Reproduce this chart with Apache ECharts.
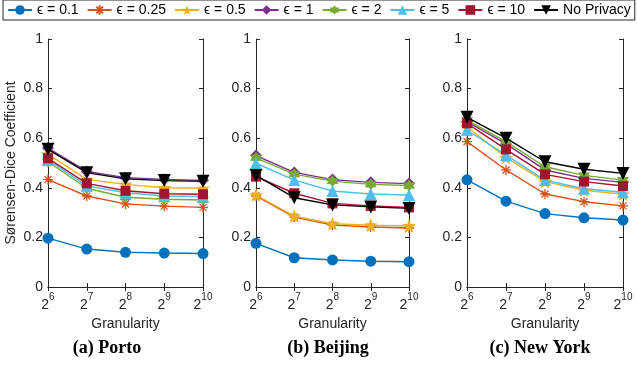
<!DOCTYPE html>
<html>
<head>
<meta charset="utf-8">
<script src="https://cdn.jsdelivr.net/npm/echarts@6/dist/echarts.min.js"></script>
<style>
  html, body { margin: 0; padding: 0; background: #fff; }
  #chart-container { width: 637px; height: 366px; }
</style>
</head>
<body>
<div id="chart-container"></div>
<script>
var dom = document.getElementById('chart-container');
var myChart = echarts.init(dom, null, {renderer: 'canvas'});

// x categories: granularity exponents (2^n)
var exponents = ['6', '7', '8', '9', '10'];
var yTicks = [0, 0.2, 0.4, 0.6, 0.8, 1];
var seriesNames = ['ϵ = 0.1', 'ϵ = 0.25', 'ϵ = 0.5', 'ϵ = 1', 'ϵ = 2', 'ϵ = 5', 'ϵ = 10', 'No Privacy'];
var captions = ['(a) Porto', '(b) Beijing', '(c) New York'];

// one row per series, in legend order
var porto = [
  [0.197, 0.153, 0.140, 0.137, 0.135],
  [0.433, 0.367, 0.335, 0.326, 0.321],
  [0.536, 0.434, 0.414, 0.400, 0.398],
  [0.560, 0.466, 0.441, 0.434, 0.430],
  [0.505, 0.398, 0.362, 0.354, 0.351],
  [0.512, 0.408, 0.380, 0.367, 0.365],
  [0.519, 0.418, 0.388, 0.376, 0.374],
  [0.555, 0.461, 0.436, 0.429, 0.426]
];
var beijing = [
  [0.176, 0.118, 0.109, 0.104, 0.102],
  [0.367, 0.282, 0.250, 0.242, 0.238],
  [0.371, 0.286, 0.255, 0.249, 0.246],
  [0.530, 0.462, 0.433, 0.422, 0.417],
  [0.521, 0.455, 0.427, 0.414, 0.409],
  [0.499, 0.431, 0.387, 0.375, 0.371],
  [0.445, 0.378, 0.337, 0.327, 0.321],
  [0.450, 0.360, 0.331, 0.323, 0.317]
];
var newYork = [
  [0.432, 0.346, 0.296, 0.279, 0.270],
  [0.586, 0.472, 0.375, 0.344, 0.327],
  [0.646, 0.522, 0.425, 0.390, 0.374],
  [0.667, 0.577, 0.472, 0.438, 0.422],
  [0.673, 0.586, 0.485, 0.450, 0.431],
  [0.633, 0.532, 0.431, 0.396, 0.382],
  [0.660, 0.555, 0.454, 0.425, 0.407],
  [0.684, 0.600, 0.505, 0.475, 0.458]
];
var panels = [porto, beijing, newYork];

var colors = ['#0072BD', '#D95319', '#EDB120', '#7E2F8E', '#77AC30', '#4DBEEE', '#A2142F', '#000000'];

function starPath(n, inner) {
  var pts = [];
  for (var i = 0; i < n * 2; i++) {
    var r = i % 2 ? inner : 1;
    var a = -Math.PI / 2 + i * Math.PI / n;
    pts.push((r * Math.cos(a) * 10).toFixed(2) + ',' + (r * Math.sin(a) * 10).toFixed(2));
  }
  return 'path://M' + pts.join('L') + 'Z';
}
var asterisk = 'path://M0,-10L0,10M-10,0L10,0M-7,-7L7,7M-7,7L7,-7';
var symbols = ['circle', asterisk, starPath(5, 0.42), 'diamond', starPath(6, 0.6), 'triangle', 'rect', 'path://M-10,-8L10,-8L0,9Z'];
var symbolSizes = [11, 10, 14, 12, 12, 12, 10, 13];

var ink = '#262626';
var gridLeft = [48, 256, 467];
var gridWidth = [155, 153, 156];

var grid = [], xAxis = [], yAxis = [], series = [];
panels.forEach(function (panel, p) {
  grid.push({left: gridLeft[p], width: gridWidth[p], top: 39, height: 248});
  xAxis.push({
    gridIndex: p, type: 'category', data: exponents, boundaryGap: false,
    axisLine: {lineStyle: {color: ink, width: 1}},
    axisTick: {inside: true, length: 4, interval: 0, lineStyle: {color: ink}},
    axisLabel: {
      margin: 5, color: ink, interval: 0,
      formatter: function (v) { return '{b|2}{s|' + v + '}'; },
      rich: {
        b: {fontSize: 14, fontFamily: 'Liberation Sans', color: ink, verticalAlign: 'bottom', lineHeight: 20},
        s: {fontSize: 10, fontFamily: 'Liberation Sans', color: ink, verticalAlign: 'top', lineHeight: 20, padding: [0, 0, 8, 0]}
      }
    },
    name: 'Granularity', nameLocation: 'middle', nameGap: 27,
    nameTextStyle: {fontSize: 14, fontFamily: 'Liberation Sans', color: ink},
    splitLine: {show: false}
  });
  xAxis.push({
    gridIndex: p, type: 'category', data: exponents, boundaryGap: false, position: 'top',
    axisLine: {lineStyle: {color: ink, width: 1}},
    axisTick: {inside: true, length: 4, interval: 0, lineStyle: {color: ink}},
    axisLabel: {show: false}, splitLine: {show: false}
  });
  yAxis.push({
    gridIndex: p, type: 'value', min: 0, max: 1, interval: 0.2,
    axisLine: {show: true, lineStyle: {color: ink, width: 1}},
    axisTick: {show: true, inside: true, length: 4, lineStyle: {color: ink}},
    axisLabel: {margin: 5, fontSize: 14, fontFamily: 'Liberation Sans', color: ink},
    splitLine: {show: false},
    name: p === 0 ? 'Sørensen-Dice Coefficient' : '', nameLocation: 'middle', nameGap: 30,
    nameTextStyle: {fontSize: 14, fontFamily: 'Liberation Sans', color: ink}
  });
  yAxis.push({
    gridIndex: p, type: 'value', min: 0, max: 1, interval: 0.2, position: 'right',
    axisLine: {show: true, lineStyle: {color: ink, width: 1}},
    axisTick: {show: true, inside: true, length: 4, lineStyle: {color: ink}},
    axisLabel: {show: false}, splitLine: {show: false}
  });
  panel.forEach(function (vals, i) {
    series.push({
      type: 'line', name: seriesNames[i],
      xAxisIndex: p * 2, yAxisIndex: p * 2,
      data: vals,
      symbol: symbols[i], symbolSize: symbolSizes[i],
      lineStyle: {color: colors[i], width: 1.4},
      itemStyle: {color: colors[i], borderColor: colors[i], borderWidth: i === 1 ? 1.3 : 0},
      emphasis: {disabled: true},
      animation: false,
      z: 2 + i
    });
  });
});

var graphic = captions.map(function (c, p) {
  return {
    type: 'text', x: [107, 328, 540][p], y: 348,
    style: {text: c, textAlign: 'center', textVerticalAlign: 'middle', font: 'bold 18px "Liberation Serif"', fill: '#000'}
  };
});

option = {
  backgroundColor: '#fff',
  legend: {
    data: seriesNames,
    left: 3, top: 0, width: 640,
    padding: [3, 4],
    itemGap: 8, itemWidth: 24, itemHeight: 12,
    borderColor: ink, borderWidth: 1, borderRadius: 0,
    textStyle: {fontSize: 14, fontFamily: 'Liberation Sans', color: '#000'},
    selectedMode: false
  },
  grid: grid,
  xAxis: xAxis,
  yAxis: yAxis,
  series: series,
  graphic: graphic
};

myChart.setOption(option);
window.addEventListener('resize', myChart.resize)
</script>
</body>
</html>
